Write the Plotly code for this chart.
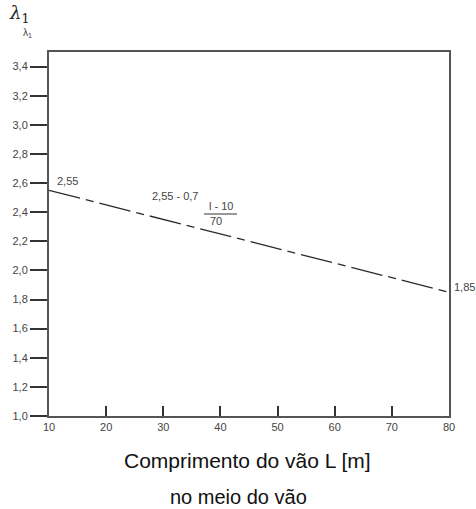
import plotly.graph_objects as go

# Data
span_L = [10, 80]
lambda_1 = [2.55, 1.85]
x_ticks = [10, 20, 30, 40, 50, 60, 70, 80]
y_ticks = [1.0, 1.2, 1.4, 1.6, 1.8, 2.0, 2.2, 2.4, 2.6, 2.8, 3.0, 3.2, 3.4]
start_label = "2,55"
end_label = "1,85"

W, H = 476, 509
# plot area in page pixels
PL, PR, PT, PB = 49, 449, 52, 416
L, R, T, B = PL, W - PR, PT, H - PB
x0, x1 = 10, 80
y0, y1 = 1.0, 3.5
pw, ph = PR - PL, PB - PT


def dx(px):
    return x0 + (px - PL) / pw * (x1 - x0)


def dy(py):
    return y0 + (PB - py) / ph * (y1 - y0)


def paper_x(px):
    return (px - PL) / pw


def paper_y(py):
    return (PB - py) / ph


fig = go.Figure()
fig.add_trace(go.Scatter(
    x=span_L, y=lambda_1, mode="lines",
    line=dict(color="#2a2a2a", width=1.3, dash="32px,6px,8px,6px"),
    hoverinfo="skip", showlegend=False,
))

FAM = "Liberation Sans, Arial, sans-serif"
font_small = dict(family=FAM, size=11, color="#444444")

ann = [
    dict(x=span_L[0], y=lambda_1[0], text=start_label, showarrow=False,
         xanchor="left", yanchor="middle", xshift=6, yshift=9, font=font_small),
    dict(x=span_L[1], y=lambda_1[1], text=end_label, showarrow=False,
         xanchor="left", yanchor="middle", xshift=3, yshift=5, font=font_small),
    dict(x=dx(175), y=dy(196), text="2,55 - 0,7", showarrow=False,
         xanchor="center", yanchor="middle", font=font_small),
    dict(x=dx(221), y=dy(206), text="l - 10", showarrow=False,
         xanchor="center", yanchor="middle", font=font_small),
    dict(x=dx(216), y=dy(221), text="70", showarrow=False,
         xanchor="center", yanchor="middle", font=font_small),
    dict(x=paper_x(7), y=paper_y(0), xref="paper", yref="paper",
         xanchor="left", yanchor="top",
         text="<i>λ</i><sub>1</sub>", showarrow=False,
         font=dict(family="DejaVu Serif, serif", size=18, color="#222")),
    dict(x=paper_x(21), y=paper_y(25), xref="paper", yref="paper",
         xanchor="left", yanchor="top",
         text="λ<sub>1</sub>", showarrow=False,
         font=dict(family=FAM, size=10, color="#444")),
    dict(x=paper_x(247), y=paper_y(460), xref="paper", yref="paper",
         xanchor="center", yanchor="middle",
         text="Comprimento do vão L [m]", showarrow=False,
         font=dict(family=FAM, size=21, color="#111")),
    dict(x=paper_x(238), y=paper_y(497), xref="paper", yref="paper",
         xanchor="center", yanchor="middle",
         text="no meio do vão", showarrow=False,
         font=dict(family=FAM, size=20, color="#111")),
]

fig.update_layout(
    width=W, height=H,
    margin=dict(l=L, r=R, t=T, b=B, autoexpand=False),
    paper_bgcolor="white", plot_bgcolor="white",
    separators=",.",
    showlegend=False,
    annotations=ann,
    shapes=[dict(type="line", xref="x", yref="y", x0=dx(204), x1=dx(237),
                 y0=dy(214), y1=dy(214), line=dict(color="#333", width=1))],
    xaxis=dict(range=[x0, x1], tickvals=x_ticks, ticks="inside", ticklen=10,
               tickwidth=1.5, tickcolor="#333", showgrid=False, zeroline=False,
               showline=True, linecolor="#555", linewidth=2, mirror=True,
               tickfont=font_small, automargin=False),
    yaxis=dict(range=[y0, y1], tickvals=y_ticks, tickformat=".1f", ticks="outside",
               ticklen=17, tickwidth=1.5, tickcolor="#333", showgrid=False,
               zeroline=False, showline=True, linecolor="#555", linewidth=2,
               mirror=True, tickfont=font_small, automargin=False),
)

fig.write_html(
    "out.html",
    config={"displayModeBar": False},
    post_script="document.body.style.margin='0';document.body.style.overflow='hidden';",
)
